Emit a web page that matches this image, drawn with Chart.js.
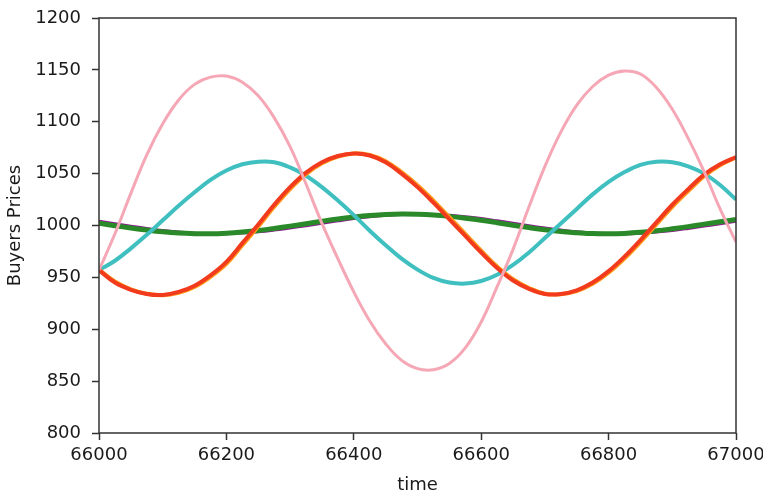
<!DOCTYPE html>
<html>
<head>
<meta charset="utf-8">
<script src="https://cdn.jsdelivr.net/npm/chart.js@4.4.0/dist/chart.umd.min.js"></script>
<style>
  html, body { margin: 0; padding: 0; background: #fff; }
  #wrap { width: 763px; height: 491px; }
</style>
</head>
<body>
<div id="wrap"><canvas id="Chart" width="763" height="491"></canvas></div>
<script>
// time axis samples
let times = [66000, 66025, 66050, 66075, 66100, 66125, 66150, 66175, 66200, 66225,
             66250, 66275, 66300, 66325, 66350, 66375, 66400, 66425, 66450, 66475,
             66500, 66525, 66550, 66575, 66600, 66625, 66650, 66675, 66700, 66725,
             66750, 66775, 66800, 66825, 66850, 66875, 66900, 66925, 66950, 66975, 67000];

// buyer price series
let pinkPrices = [957, 992, 1031, 1068, 1098, 1121, 1136, 1143, 1144, 1138,
                  1125, 1104, 1076, 1040, 1002, 968, 936, 908, 886, 870,
                  862, 861, 867, 882, 907, 941, 977, 1018, 1057, 1090,
                  1116, 1134, 1145, 1149, 1146, 1133, 1112, 1084, 1052, 1016, 984];
let cyanPrices = [957, 966, 978, 991, 1005, 1019, 1032, 1044, 1053, 1059,
                  1061.5, 1061, 1056, 1048, 1037, 1024, 1010, 995, 981, 968,
                  957.5, 949.5, 945, 944, 946.5, 952.5, 962, 974, 988, 1002,
                  1016, 1030, 1042, 1051.5, 1058.5, 1061.5, 1061, 1057, 1050, 1039, 1025];
let orangePrices = [957.5, 946, 938.5, 934.2, 932.8, 935.2, 940.8, 950.5, 963, 981,
                    999, 1018, 1035.2, 1049.5, 1060, 1066.5, 1069.5, 1068, 1062, 1051.5,
                    1038.8, 1024, 1008, 992, 975.8, 960.5, 948.2, 939.8, 934.2, 933.8,
                    936.8, 943.8, 954.5, 968.2, 984, 1001, 1018, 1033.2, 1047.5, 1058, 1065.5];
let redPrices = [957, 945, 938, 934, 933, 936, 942, 952, 965, 983,
                 1001, 1020, 1037, 1051, 1061, 1067, 1069.5, 1067.5, 1061, 1050,
                 1037, 1022, 1006, 990, 974, 959, 947, 939, 934, 934,
                 937.5, 945, 956, 970, 986, 1003, 1020, 1035, 1049, 1059, 1066];
let purplePrices = [1004.1, 1001.7, 999.4, 997.2, 995.2, 993.7, 992.6, 992.0, 992.1, 992.7,
                    993.9, 995.6, 997.6, 999.8, 1002.2, 1004.5, 1006.7, 1008.5, 1009.8, 1010.7,
                    1011.0, 1010.7, 1009.8, 1008.5, 1006.7, 1004.5, 1002.2, 999.8, 997.6, 995.6,
                    993.9, 992.7, 992.1, 992.0, 992.6, 993.7, 995.2, 997.2, 999.4, 1001.7, 1004.1];
let greenPrices = [1002.2, 999.8, 997.6, 995.6, 993.9, 992.7, 992.1, 992.0, 992.6, 993.7,
                   995.2, 997.2, 999.4, 1001.7, 1004.1, 1006.3, 1008.1, 1009.6, 1010.6, 1011.0,
                   1010.8, 1010.1, 1008.8, 1007.0, 1005.0, 1002.7, 1000.3, 998.0, 995.9, 994.2,
                   993.1, 992.2, 992.0, 992.4, 993.4, 994.9, 996.8, 998.9, 1001.3, 1003.6, 1005.8];

let xTicks = [66000, 66200, 66400, 66600, 66800, 67000];
let yTicks = [800, 850, 900, 950, 1000, 1050, 1100, 1150, 1200];

function toPoints(values) {
    let pts = [];
    for (let i in values) {
        pts.push({ x: times[i], y: values[i] });
    }
    return pts;
}

function line(values, color, width) {
    return {
        data: toPoints(values),
        borderColor: color,
        backgroundColor: color,
        borderWidth: width,
        pointRadius: 0,
        fill: false,
        tension: 0.4
    };
}

// box round the plot area like matplotlib spines
const frame = {
    id: 'frame',
    afterDraw(chart) {
        let a = chart.chartArea;
        let ctx = chart.ctx;
        ctx.save();
        ctx.strokeStyle = '#333333';
        ctx.lineWidth = 1.5;
        ctx.strokeRect(a.left, a.top, a.right - a.left, a.bottom - a.top);
        ctx.restore();
    }
};

const tickFont = { family: 'DejaVu Sans', size: 18 };

// first dataset in the list is drawn on top
new Chart(document.getElementById('Chart'), {
    type: 'line',
    data: {
        datasets: [
            line(pinkPrices, '#f5a7b5', 3),
            line(redPrices, '#f23a1c', 4),
            line(orangePrices, '#ff9a1a', 4),
            line(cyanPrices, '#3fbfbf', 4),
            line(greenPrices, '#2a8a2a', 5),
            line(purplePrices, '#8e1a8e', 3)
        ]
    },
    plugins: [frame],
    options: {
        responsive: false,
        animation: false,
        devicePixelRatio: 1,
        layout: { padding: { top: 18, right: 27, left: 0, bottom: 0 } },
        plugins: { legend: { display: false }, tooltip: { enabled: false } },
        scales: {
            x: {
                type: 'linear',
                min: 66000,
                max: 67000,
                afterBuildTicks: function(s) { s.ticks = xTicks.map(v => ({ value: v })); },
                afterFit: function(s) { s.height = 58; s.paddingLeft = 0; s.paddingRight = 0; },
                grid: { drawOnChartArea: false, drawTicks: true, tickLength: 7, color: '#333333', tickWidth: 1.5 },
                border: { display: false },
                ticks: { color: '#1a1a1a', font: tickFont, padding: 5, maxRotation: 0,
                         callback: v => String(v) },
                title: { display: true, text: 'time', color: '#1a1a1a', font: tickFont, padding: { top: 0, bottom: -5 } }
            },
            y: {
                min: 800,
                max: 1200,
                afterBuildTicks: function(s) { s.ticks = yTicks.map(v => ({ value: v })); },
                afterFit: function(s) { s.width = 99; s.paddingTop = 0; s.paddingBottom = 0; },
                grid: { drawOnChartArea: false, drawTicks: true, tickLength: 7, color: '#333333', tickWidth: 1.5 },
                border: { display: false },
                ticks: { color: '#1a1a1a', font: tickFont, padding: 11,
                         callback: v => String(v) },
                title: { display: true, text: 'Buyers Prices', color: '#1a1a1a', font: tickFont, padding: { top: 5, bottom: 0 } }
            }
        }
    }
});
</script>
</body>
</html>
